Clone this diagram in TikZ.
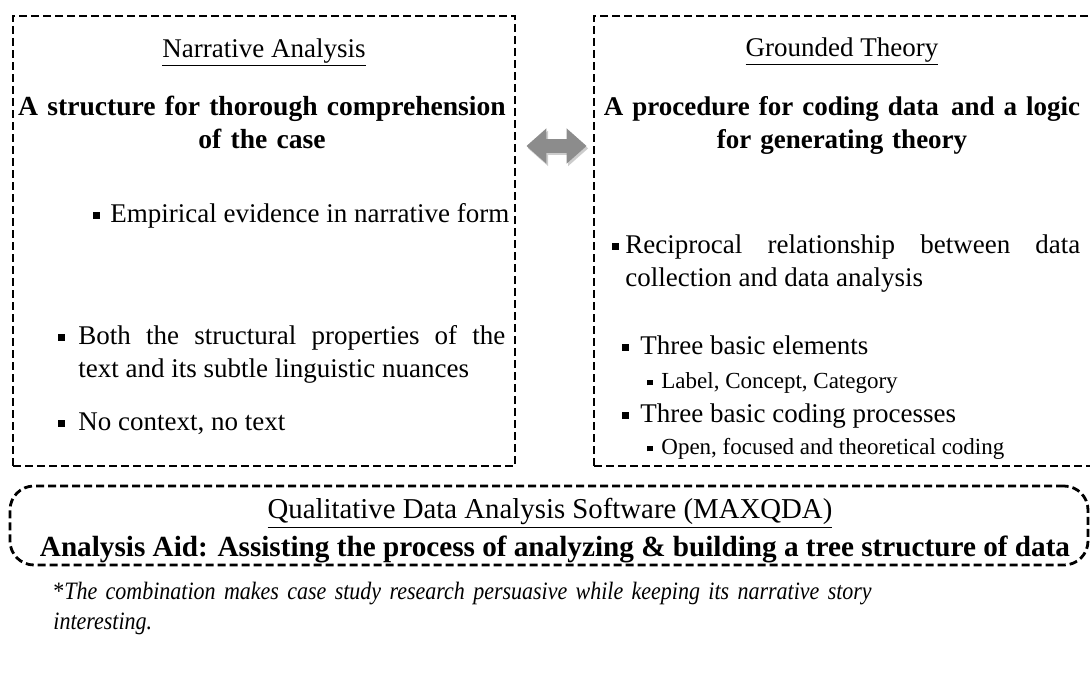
\documentclass[tikz,border=0pt]{standalone}
\usepackage{fontspec}
\setmainfont{Liberation Serif}
\usetikzlibrary{positioning}
\usetikzlibrary{arrows.meta}
\definecolor{arrowgray}{HTML}{8C8C8C}
\newcommand{\sqb}{\rule[0.25ex]{0.55ex}{0.55ex}}
\newcommand{\bul}[1]{\hangindent=#1\hangafter=1\noindent\makebox[#1][l]{\sqb}}
\tikzset{
  % dashed frame round each approach
  frame/.style={
    draw=black, dash pattern=on 4pt off 2pt, line width=1.4pt,
    minimum width=251pt, minimum height=225pt, inner sep=0pt},
  % underlined titles
  heading/.style={anchor=base, inner sep=0pt, font=\fontsize{13.5}{16.5}\selectfont},
  % bold statement under a title
  claim/.style={
    anchor=base, inner sep=0pt, align=center, text width=#1,
    font=\bfseries\fontsize{13.8}{16.5}\selectfont},
  % bullet points
  item/.style={
    anchor=base west, inner sep=0pt, align=justify, text width=#1,
    font=\fontsize{13.5}{16.5}\selectfont},
  subitem/.style={item=#1, font=\fontsize{11.5}{14}\selectfont},
  % the two-way block arrow
  twoway/.style={
    draw=arrowgray, line width=7pt,
    {Triangle[length=10pt,width=17pt]}-{Triangle[length=10pt,width=17pt]}},
}

\begin{document}
\begin{tikzpicture}[x=0.5pt, y=-0.5pt]
\useasboundingbox (0,0) rectangle (1090,691);

\node[frame] (narr) at (264,241) {};
\node[frame] (grounded) at (845,241) {};
\node[frame, minimum width=539pt, minimum height=39.5pt, rounded corners=12pt]
  (qda) at (549,525.5) {};

% narrative analysis
\node[heading] (narrtitle) at (264,57) {\underline{Narrative Analysis}};
\node[claim=250pt] (narrclaim) at (262,115)
  {A structure for thorough comprehension\\ of the case};
\node[item=227pt] (empirical) at (93,222)
  {\bul{8.5pt}Empirical evidence in narrative form\par};
\node[item=223.5pt] (structural) at (58,344)
  {\bul{10pt}Both the structural properties of the\linebreak
   text and its subtle linguistic nuances\par};
\node[item=223.5pt] (nocontext) at (58,430) {\bul{10pt}No context, no text\par};

% grounded theory
\node[heading] (groundtitle) at (842,56) {\underline{Grounded Theory}};
\node[claim=280pt, font=\bfseries\fontsize{13.5}{16.5}\selectfont] (groundclaim) at (842,115)
  {A procedure for coding data\hspace{0.45em}and a logic\\ for generating theory};
\node[item=234pt] (reciprocal) at (612,253)
  {\bul{6.5pt}Reciprocal relationship between data\linebreak
   collection and data analysis\par};
\node[item=200pt] (elements) at (622,354) {\bul{9pt}Three basic elements\par};
\node[subitem=200pt] (labels) at (647,388) {\bul{7pt}Label, Concept, Category\par};
\node[item=200pt] (processes) at (622,422) {\bul{9pt}Three basic coding processes\par};
\node[subitem=200pt] (opencoding) at (647,454)
  {\bul{7pt}Open, focused and theoretical coding\par};

\coordinate (arrowline) at (0,146);
\draw[twoway, draw=black!20, transform canvas={xshift=0.8pt,yshift=-1.2pt},
      shorten <=5pt, shorten >=3pt]
  (narr.east |- arrowline) -- (grounded.west |- arrowline);
\draw[twoway, shorten <=5pt, shorten >=3pt]
  (narr.east |- arrowline) -- (grounded.west |- arrowline);

% software
\node[heading, font=\fontsize{14.4}{16}\selectfont] (qdatitle) at (550,518)
  {\underline{Qualitative Data Analysis Software (MAXQDA)}};
\node[heading, font=\bfseries\fontsize{14.6}{16}\selectfont] (aid) at (555,556)
  {Analysis Aid: Assisting the process of analyzing \& building a tree structure of data};

\node[anchor=base west, inner sep=0pt, align=left, text width=500pt,
      font=\fontsize{12.5}{15}\selectfont\addfontfeature{FakeStretch=0.88}] (note) at (53,599)
  {*\textit{The combination makes case study research persuasive while keeping its narrative story}\\
   \textit{interesting.}};

\end{tikzpicture}
\end{document}
